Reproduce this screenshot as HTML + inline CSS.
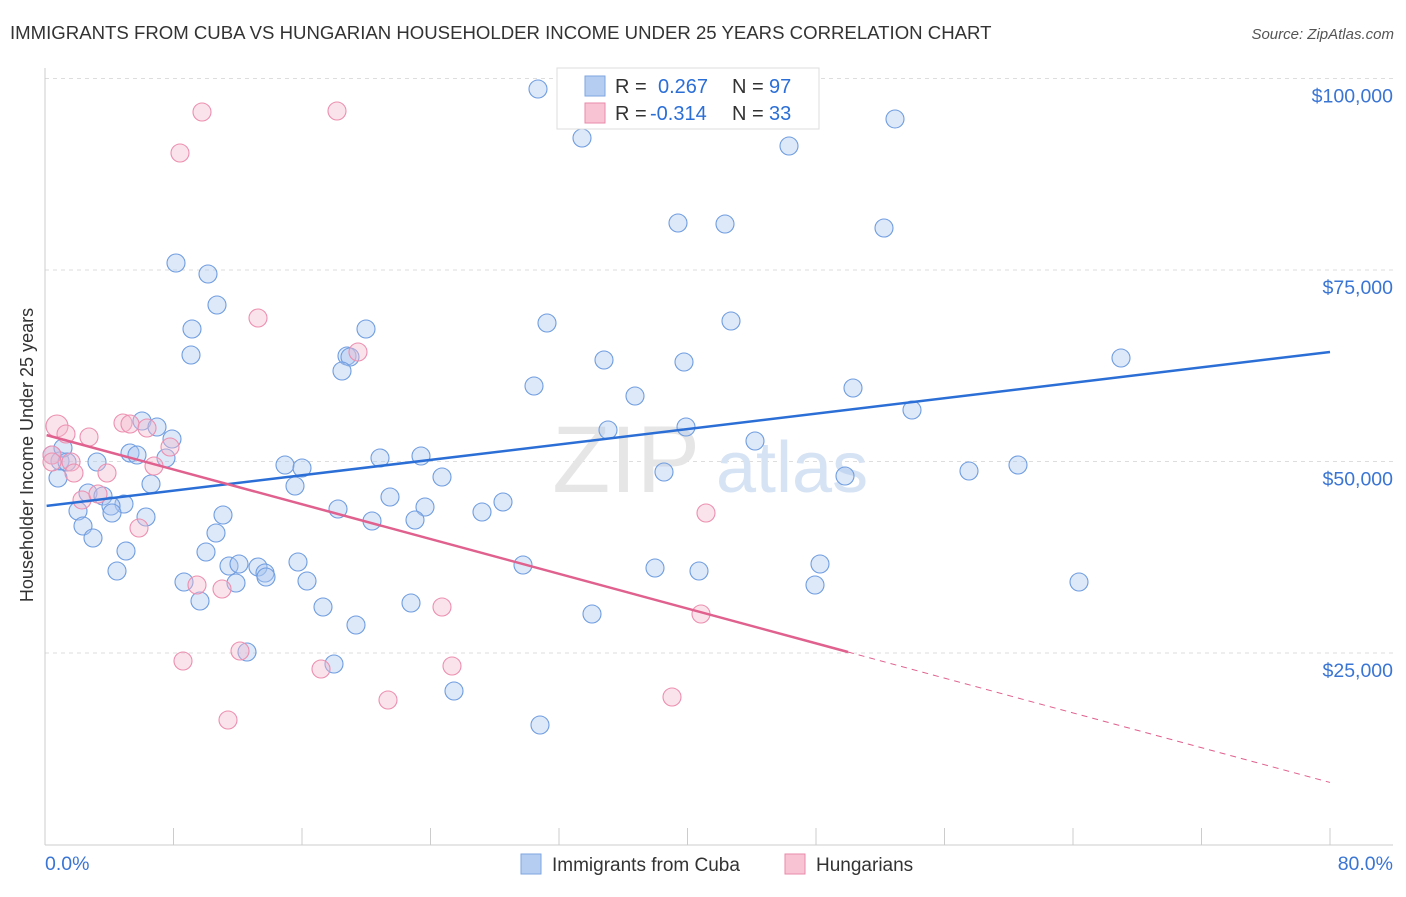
<!DOCTYPE html>
<html><head><meta charset="utf-8"><style>
body{margin:0;background:#fff;font-family:"Liberation Sans",sans-serif;}
svg text{font-family:"Liberation Sans",sans-serif;}
</style></head><body>
<svg id="chart" width="1406" height="892">
<text x="10" y="39" font-size="18.6" fill="#333">IMMIGRANTS FROM CUBA VS HUNGARIAN HOUSEHOLDER INCOME UNDER 25 YEARS CORRELATION CHART</text>
<text x="1394" y="39" font-size="15" fill="#555" font-style="italic" text-anchor="end">Source: ZipAtlas.com</text>
<g id="grid"></g>
<text x="700" y="492" font-size="95" fill="#e6e6e6" text-anchor="end" font-family="Liberation Serif">ZIP</text>
<text x="716" y="492" font-size="72" fill="#d6e3f4">atlas</text>
<g id="pts"></g>
<g id="lines"></g>
<text transform="translate(33,455) rotate(-90)" font-size="18" fill="#333" text-anchor="middle">Householder Income Under 25 years</text>
<g>
<rect x="557" y="68" width="262" height="61" fill="#fff" stroke="#ddd"/>
<rect x="585" y="76" width="20" height="20" fill="#b6cdf2" stroke="#7ea6e0"/>
<rect x="585" y="103" width="20" height="20" fill="#f8c4d4" stroke="#e88aab"/>
<text x="615" y="93" font-size="20" fill="#333">R = </text><text x="658" y="93" font-size="20" fill="#2b6fd6">0.267</text>
<text x="732" y="93" font-size="20" fill="#333">N = </text><text x="769" y="93" font-size="20" fill="#2b6fd6">97</text>
<text x="615" y="120" font-size="20" fill="#333">R = </text><text x="650" y="120" font-size="20" fill="#2b6fd6">-0.314</text>
<text x="732" y="120" font-size="20" fill="#333">N = </text><text x="769" y="120" font-size="20" fill="#2b6fd6">33</text>
</g>
<g>
<rect x="521" y="854" width="20" height="20" fill="#b6cdf2" stroke="#7ea6e0"/>
<text x="552" y="871" font-size="19" fill="#333">Immigrants from Cuba</text>
<rect x="785" y="854" width="20" height="20" fill="#f8c4d4" stroke="#e88aab"/>
<text x="816" y="871" font-size="19" fill="#333">Hungarians</text>
</g>
</svg>
<script>
const yTicks=[25000,50000,75000,100000];
const yTickLabels=["$25,000","$50,000","$75,000","$100,000"];
const blueX=[538,582,789,895,678,725,884,176,208,217,192,366,547,731,191,347,350,342,604,684,1121,534,635,853,912,608,686,755,142,157,172,130,137,166,52,60,63,67,58,97,285,302,380,421,442,664,845,969,1018,295,151,88,103,124,111,78,112,83,93,146,223,338,390,425,482,503,372,415,216,126,206,117,229,239,258,265,266,236,298,307,184,200,523,655,699,820,815,1079,323,411,592,356,247,334,454,540].map(p=>(p-45)/1285*80);
const blueY=[89,138,146,119,223,224,228,263,274,305,329,329,323,321,355,356,357,371,360,362,358,386,396,388,410,430,427,441,421,427,439,453,455,458,455,461,448,462,478,462,465,468,458,456,477,472,476,471,465,486,484,493,496,504,506,511,513,526,538,517,515,509,497,507,512,502,521,520,533,551,552,571,566,564,567,573,577,583,562,581,582,601,565,568,571,564,585,582,607,603,614,625,652,664,691,725].map(p=>Math.round((844.5-p)/191.5*25000));
const pinkX=[57,66,89,52,71,74,107,82,98,123,130,147,154,170,139,202,180,337,258,358,197,222,183,240,228,321,388,442,452,706,701,672,52].map(p=>(p-45)/1285*80);
const pinkY=[426,434,437,455,462,473,473,500,494,423,424,428,466,447,528,112,153,111,318,352,585,589,661,651,720,669,700,607,666,513,614,697,462].map(p=>Math.round((844.5-p)/191.5*25000));
const blueTrend=[44200,64300];
const pinkTrend=[53500,8100];
const NS="http://www.w3.org/2000/svg";
const X=v=>45+v/80*1285, Y=v=>844.5-v/25000*191.5;
function mk(t,a,parent){const e=document.createElementNS(NS,t);for(const k in a)e.setAttribute(k,a[k]);parent.appendChild(e);return e;}
const grid=document.getElementById('grid');
yTicks.forEach((t,i)=>{
 const l=mk('line',{x1:45,x2:1393,y1:Y(t),y2:Y(t),stroke:'#ddd','stroke-dasharray':'4,4'},grid);
 
 
 const tx=mk('text',{x:1393,y:Y(t)+24,'font-size':19.5,fill:'#3a75d4','text-anchor':'end'},grid);
 tx.textContent=yTickLabels[i];
 
 
});
mk('line',{x1:45,x2:45,y1:68,y2:845,stroke:'#ccc'},grid);
mk('line',{x1:45,x2:1393,y1:845,y2:845,stroke:'#ccc'},grid);
for(let i=0;i<=10;i++){const xx=45+i*128.5;mk('line',{x1:xx,x2:xx,y1:828,y2:845,stroke:'#ccc'},grid);}
const x0=mk('text',{x:45,y:870,'font-size':19.5,fill:'#3a75d4'},grid);x0.textContent='0.0%';


const x1=mk('text',{x:1393,y:870,'font-size':19.5,fill:'#3a75d4','text-anchor':'end'},grid);x1.textContent='80.0%';


const pts=document.getElementById('pts');
blueX.forEach((v,i)=>{const c=mk('circle',{cx:X(v),cy:Y(blueY[i]),r:9,fill:'rgba(170,198,240,0.4)',stroke:'#6f9de0','stroke-width':1.1},pts);
 
 });
pinkX.forEach((v,i)=>{const c=mk('circle',{cx:X(v),cy:Y(pinkY[i]),r:i==0?11:9,fill:'rgba(246,184,206,0.4)',stroke:'#ec8fb0','stroke-width':1.1},pts);
 
 });
const lines=document.getElementById('lines');
const bl=mk('line',{x1:X(0.1),y1:Y(blueTrend[0]),x2:X(80),y2:Y(blueTrend[1]),stroke:'#2b6fd6','stroke-width':2.5},lines);


const pf=x=>pinkTrend[0]+(pinkTrend[1]-pinkTrend[0])*x/80;
const xs=(848-45)/1285*80;
const pl=mk('line',{x1:X(0.1),y1:Y(pf(0.1)),x2:X(xs),y2:Y(pf(xs)),stroke:'#e0608e','stroke-width':2.5},lines);


const pd=mk('line',{x1:X(xs),y1:Y(pf(xs)),x2:X(80),y2:Y(pf(80)),stroke:'#e0608e','stroke-width':1,'stroke-dasharray':'6,5'},lines);


</script>
</body></html>
